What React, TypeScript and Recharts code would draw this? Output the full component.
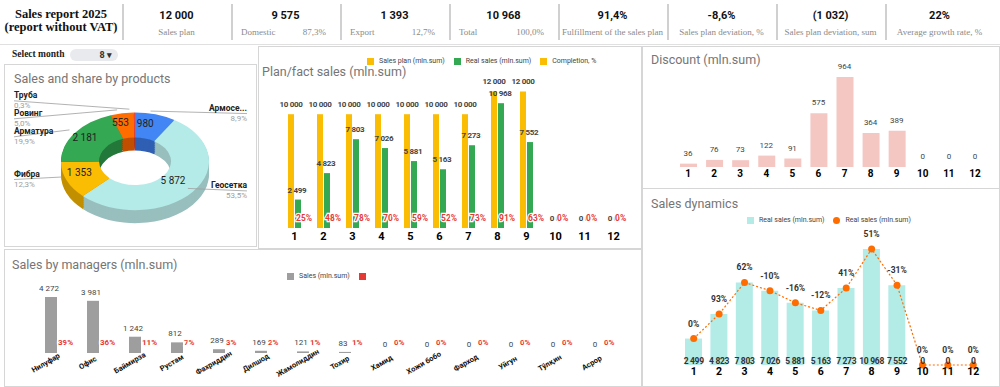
import React from 'react';
import {
  XAxis,
  YAxis,
  LabelList,
  PieChart,
  Pie,
  Cell,
  ComposedChart,
  Bar,
  Line,
} from 'recharts';

// ---- data ----
const months = ['1', '2', '3', '4', '5', '6', '7', '8', '9', '10', '11', '12'];
const salesPlan = [10000, 10000, 10000, 10000, 10000, 10000, 10000, 12000, 12000, 0, 0, 0];
const realSales = [2499, 4823, 7803, 7026, 5881, 5163, 7273, 10968, 7552, 0, 0, 0];
const completion = [25, 48, 78, 70, 59, 52, 73, 91, 63, 0, 0, 0];
const discount = [36, 76, 73, 122, 91, 575, 964, 364, 389, 0, 0, 0];
const growth = [0, 93, 62, -10, -16, -12, 41, 51, -31, 0, 0, 0];

const products = ['Армосетка', 'Геосетка', 'Фибра', 'Арматура', 'Ровинг', 'Труба'];
const productSales = [980, 5872, 1353, 2181, 553, 29];
const productShare = ['8,9%', '53,5%', '12,3%', '19,9%', '5,0%', '0,3%'];
const productColors = ['#4285f4', '#b4ebe8', '#fbbc04', '#34a853', '#ff6d01', '#e8453c'];
const productSideColors = ['#2f5fb3', '#98bfbd', '#c28f00', '#23783a', '#c24f00', '#a8302a'];

const managers = [
  'Нилуфар', 'Офис', 'Баймирза', 'Рустам', 'Фахриддин', 'Дилшод', 'Жамолиддин',
  'Тохир', 'Хамид', 'Хожи бобо', 'Фарход', 'Уйгун', 'Тўлқин', 'Асрор',
];
const managerSales = [4272, 3981, 1242, 812, 289, 169, 121, 83, 0, 0, 0, 0, 0, 0];
const managerShare = [39, 36, 11, 7, 3, 2, 1, 1, 0, 0, 0, 0, 0, 0];

const kpiValues = ['12 000', '9 575', '1 393', '10 968', '91,4%', '-8,6%', '(1 032)', '22%'];
const kpiCaptions = [
  'Sales plan', 'Domestic', 'Export', 'Total', 'Fulfillment of the sales plan',
  'Sales plan deviation, %', 'Sales plan deviation, sum', 'Average growth rate, %',
];
const kpiShares = ['', '87,3%', '12,7%', '100,0%', '', '', '', ''];

const planLegend = ['Sales plan (mln.sum)', 'Real sales (mln.sum)', 'Completion, %'];
const dynLegend = ['Real sales (mln.sum)', 'Real sales (mln.sum)'];
const mgrLegend = ['Sales (mln.sum)', ''];

// ---- helpers ----
const FONT = 'Roboto, "Liberation Sans", Arial, sans-serif';
const SERIF = '"Liberation Serif", "DejaVu Serif", serif';

const fmt = (n: any) => String(n).replace(/\B(?=(\d{3})+(?!\d))/g, ' ');
const zero = () => 0;

const planData = months.map((m, i) => ({
  month: m,
  plan: salesPlan[i],
  real: realSales[i],
  completion: completion[i],
}));
const discData = months.map((m, i) => ({ month: m, discount: discount[i] }));
const dynData = months.map((m, i) => ({ month: m, real: realSales[i], growth: growth[i] }));
const mgrData = managers.map((m, i) => ({ name: m, sales: managerSales[i], share: managerShare[i] }));
const pieData = products.map((p, i) => ({ name: p, value: productSales[i] }));

// pie geometry
const PIE_R = 74;
const PIE_IR = 36;
const PIE_K = 0.66;
const PIE_CX = 126;
const PIE_CY = 94;
const pieTotal = productSales.reduce((a, b) => a + b, 0);

function layoutPieLabels() {
  let a = 90;
  const items = productSales.map((v, i) => {
    const sweep = (v / pieTotal) * 360;
    const mid = a - sweep / 2;
    a -= sweep;
    const rad = (mid * Math.PI) / 180;
    const px = PIE_CX + PIE_R * Math.cos(rad);
    const py = PIE_CY - PIE_R * PIE_K * Math.sin(rad);
    return { i, px, py, left: Math.cos(rad) < 0, y: py - 2 };
  });
  [true, false].forEach((side) => {
    const list = items.filter((it) => it.left === side).sort((p, q) => p.y - q.y);
    for (let it = 0; it < 40; it++) {
      for (let j = 1; j < list.length; j++) {
        const gap = list[j].y - list[j - 1].y;
        if (gap < 18) {
          const d = (18 - gap) / 2;
          list[j].y += d;
          list[j - 1].y -= d;
        }
      }
    }
  });
  return items;
}
const pieLabels = layoutPieLabels();

const PieLabel = (p: any) => {
  const idx = p.index;
  const lay = pieLabels[idx];
  if (!lay) return null;
  const rad = (p.midAngle * Math.PI) / 180;
  const rm = (PIE_R + PIE_IR) / 2;
  const vx = PIE_CX + rm * Math.cos(rad);
  const vy = PIE_CY - rm * PIE_K * Math.sin(rad);
  const lx = lay.left ? 10 : 243;
  const anchor = lay.left ? 'start' : 'end';
  const name = products[idx].length > 8 ? products[idx].slice(0, 6) + '...' : products[idx];
  return (
    <g>
      <polyline
        points={`${lx},${lay.y + 4.5} ${lay.px},${lay.py}`}
        fill="none"
        stroke="#9e9e9e"
        strokeWidth={0.8}
      />
      <text x={lx} y={lay.y + 2} textAnchor={anchor} fontSize={8.5} fontWeight="bold" fill="#222" fontFamily={FONT}>
        {name}
      </text>
      <text x={lx} y={lay.y + 11.5} textAnchor={anchor} fontSize={8} fill="#9e9e9e" fontFamily={FONT}>
        {productShare[idx]}
      </text>
      {productSales[idx] > 100 && (
        <text x={vx} y={vy + 3.5} textAnchor="middle" fontSize={10} fill="#222" fontFamily={FONT}>
          {fmt(productSales[idx])}
        </text>
      )}
    </g>
  );
};

// label renderers (used on invisible helper lines so that zero values are labelled too)
const topLabel =
  (dx: number, dy: number, size: number, color: string, bold: boolean, suffix = '', ls = 0) =>
  (p: any) => (
    <text
      x={Number(p.x) + dx}
      y={Number(p.y) - dy}
      textAnchor="middle"
      fill={color}
      fontSize={size}
      fontWeight={bold ? 'bold' : 'normal'}
      letterSpacing={ls}
      fontFamily={FONT}
    >
      {fmt(p.value) + suffix}
    </text>
  );

const redLabel = (dx: number, dy: number, size: number) => (p: any) => (
  <text
    x={Number(p.x) + dx}
    y={Number(p.y) - dy}
    fill="#e53935"
    fontSize={size}
    fontWeight="bold"
    stroke="#fff"
    strokeWidth={2.5}
    paintOrder="stroke"
    fontFamily={FONT}
  >
    {p.value}%
  </text>
);

const ManagerTick = (p: any) => {
  const { x, y, payload } = p;
  const tx = x - 4;
  const ty = y + 12;
  return (
    <text
      x={tx}
      y={ty}
      transform={`rotate(-30 ${tx} ${ty})`}
      textAnchor="middle"
      fontSize={7.5}
      fontWeight="bold"
      fill="#111"
      fontFamily={FONT}
    >
      {payload.value}
    </text>
  );
};

const boldTick = { fill: '#000', fontSize: 11, fontWeight: 'bold', fontFamily: FONT };

function LegendItem({ label, color, round }: { label: string; color: string; round?: boolean }) {
  return (
    <span style={{ display: 'inline-flex', alignItems: 'center', marginRight: 9 }}>
      <span
        style={{
          display: 'inline-block',
          width: 7,
          height: 7,
          background: color,
          borderRadius: round ? 4 : 0,
          marginRight: 5,
        }}
      />
      {label}
    </span>
  );
}

const panel = (left: number, top: number, width: number, height: number): React.CSSProperties => ({
  position: 'absolute',
  left,
  top,
  width,
  height,
  border: '1px solid #d6d6d6',
  boxSizing: 'border-box',
  background: '#fff',
});

const titleStyle = (left: number, top: number): React.CSSProperties => ({
  position: 'absolute',
  left,
  top,
  fontFamily: FONT,
  fontSize: 12.5,
  color: '#757575',
  whiteSpace: 'nowrap',
});

const legendStyle = (left: number, top: number): React.CSSProperties => ({
  position: 'absolute',
  left,
  top,
  fontFamily: FONT,
  fontSize: 7,
  color: '#444',
  whiteSpace: 'nowrap',
  display: 'flex',
  alignItems: 'center',
});

function Header() {
  return (
    <div style={{ position: 'absolute', left: 0, top: 0, width: 1000, height: 45 }}>
      <div
        style={{
          position: 'absolute',
          left: 0,
          top: 8,
          width: 122,
          textAlign: 'center',
          fontFamily: SERIF,
          fontWeight: 'bold',
          fontSize: 12.5,
          lineHeight: '13px',
          color: '#111',
        }}
      >
        Sales report 2025
        <br />
        (report without VAT)
      </div>
      {kpiValues.map((v, i) => (
        <div key={i} style={{ position: 'absolute', left: 122 + i * 109, top: 0, width: 109, height: 45 }}>
          <div style={{ position: 'absolute', left: 0, top: 4, width: 2, height: 36, background: '#d0d0d0' }} />
          <div
            style={{
              position: 'absolute',
              top: 9,
              width: '100%',
              textAlign: 'center',
              fontFamily: FONT,
              fontWeight: 'bold',
              fontSize: 11,
              color: '#111',
            }}
          >
            {v}
          </div>
          <div
            style={{
              position: 'absolute',
              top: 27,
              left: 4,
              right: 4,
              display: 'flex',
              justifyContent: kpiShares[i] ? 'space-between' : 'center',
              padding: kpiShares[i] ? '0 10px 0 6px' : 0,
              fontFamily: SERIF,
              fontSize: 9,
              color: '#8a8a8a',
              whiteSpace: 'nowrap',
            }}
          >
            <span>{kpiCaptions[i]}</span>
            {kpiShares[i] && <span>{kpiShares[i]}</span>}
          </div>
        </div>
      ))}
      <div style={{ position: 'absolute', left: 0, top: 44, width: 1000, height: 1, background: '#e0e0e0' }} />
    </div>
  );
}

const hiddenLine = { stroke: 'none', dot: false, activeDot: false, isAnimationActive: false } as any;

export default function App() {
  const sideOffsets = [13, 11, 9, 7, 5, 3, 1];
  return (
    <div
      style={{
        position: 'absolute',
        left: 0,
        top: 0,
        width: 1000,
        height: 387,
        overflow: 'hidden',
        background: '#fff',
        fontFamily: FONT,
      }}
    >
      <Header />

      {/* month selector */}
      <div style={{ position: 'absolute', left: 12, top: 49, fontFamily: SERIF, fontWeight: 'bold', fontSize: 9.5, color: '#222' }}>
        Select month
      </div>
      <div
        style={{
          position: 'absolute',
          left: 70,
          top: 49,
          width: 48,
          height: 12,
          borderRadius: 6,
          background: '#e8eaed',
          fontFamily: FONT,
          fontSize: 9,
          fontWeight: 'bold',
          color: '#333',
          textAlign: 'right',
          paddingRight: 6,
          boxSizing: 'border-box',
          lineHeight: '12px',
        }}
      >
        8 ▾
      </div>

      {/* panels */}
      <div style={panel(4, 64, 253, 183)} />
      <div style={panel(258, 46, 384, 203)} />
      <div style={panel(642, 46, 358, 143)} />
      <div style={panel(642, 188, 358, 199)} />
      <div style={panel(4, 249, 638, 138)} />

      {/* products donut */}
      <div style={titleStyle(14, 71)}>Sales and share by products</div>
      <div
        style={{
          position: 'absolute',
          left: 4,
          top: 158 - 100 * PIE_K,
          width: 252,
          height: 200,
          transform: `scaleY(${PIE_K})`,
          transformOrigin: '0 0',
        }}
      >
        <PieChart width={252} height={200}>
          {sideOffsets.map((d) => (
            <Pie
              key={'side' + d}
              data={pieData}
              dataKey="value"
              cx={126}
              cy={100 + d / PIE_K}
              outerRadius={PIE_R}
              innerRadius={PIE_IR}
              startAngle={90}
              endAngle={-270}
              stroke="none"
              isAnimationActive={false}
            >
              {pieData.map((_, i) => (
                <Cell key={i} fill={productSideColors[i]} />
              ))}
            </Pie>
          ))}
          <Pie
            data={pieData}
            dataKey="value"
            cx={126}
            cy={100}
            outerRadius={PIE_R}
            innerRadius={PIE_IR}
            startAngle={90}
            endAngle={-270}
            stroke="none"
            isAnimationActive={false}
          >
            {pieData.map((_, i) => (
              <Cell key={i} fill={productColors[i]} />
            ))}
          </Pie>
        </PieChart>
      </div>
      <div style={{ position: 'absolute', left: 4, top: 64 }}>
        <PieChart width={252} height={182}>
          <Pie
            data={pieData}
            dataKey="value"
            cx={PIE_CX}
            cy={PIE_CY}
            outerRadius={PIE_R}
            innerRadius={PIE_IR}
            startAngle={90}
            endAngle={-270}
            fill="none"
            stroke="none"
            label={PieLabel}
            labelLine={false}
            isAnimationActive={false}
          />
        </PieChart>
      </div>

      {/* plan / fact */}
      <div style={{ position: 'absolute', left: 259, top: 47 }}>
        <ComposedChart
          width={380}
          height={200}
          data={planData}
          margin={{ top: 16, right: 11, bottom: 0, left: 21 }}
          barGap={1}
        >
          <XAxis
            dataKey="month"
            axisLine={false}
            tickLine={false}
            tickSize={4}
            tickMargin={0}
            height={19}
            interval={0}
            tick={boldTick}
          />
          <YAxis hide domain={[0, 14500]} />
          <Bar dataKey="plan" fill="#fbbc04" barSize={6} isAnimationActive={false} />
          <Bar dataKey="real" fill="#34a853" barSize={6} isAnimationActive={false} />
          <Line dataKey="plan" {...hiddenLine}>
            <LabelList dataKey="plan" content={topLabel(-3.5, 7, 8, '#444', true, '', -0.3)} />
          </Line>
          <Line dataKey="real" {...hiddenLine}>
            <LabelList dataKey="real" content={topLabel(2.5, 7, 8, '#444', true, '', -0.3)} />
          </Line>
          <Line dataKey={zero} {...hiddenLine}>
            <LabelList dataKey="completion" content={redLabel(1.5, 7, 8.5)} />
          </Line>
        </ComposedChart>
      </div>
      <div style={titleStyle(262, 64)}>Plan/fact sales (mln.sum)</div>
      <div style={legendStyle(367, 57)}>
        <LegendItem label={planLegend[0]} color="#fbbc04" />
        <LegendItem label={planLegend[1]} color="#34a853" />
        <LegendItem label={planLegend[2]} color="#fbbc04" />
      </div>

      {/* discount */}
      <div style={{ position: 'absolute', left: 643, top: 47 }}>
        <ComposedChart width={357} height={141} data={discData} margin={{ top: 15, right: 12, bottom: 0, left: 32 }}>
          <XAxis
            dataKey="month"
            axisLine={false}
            tickLine={false}
            tickSize={3}
            tickMargin={0}
            height={21}
            interval={0}
            tick={{ ...boldTick, fontSize: 10 }}
          />
          <YAxis hide domain={[0, 1125]} />
          <Bar dataKey="discount" fill="#f4c7c3" barSize={17} isAnimationActive={false} />
          <Line dataKey="discount" {...hiddenLine}>
            <LabelList dataKey="discount" content={topLabel(0, 8, 8, '#444', false)} />
          </Line>
        </ComposedChart>
      </div>
      <div style={titleStyle(651, 52)}>Discount (mln.sum)</div>

      {/* sales dynamics */}
      <div style={{ position: 'absolute', left: 643, top: 189 }}>
        <ComposedChart width={357} height={198} data={dynData} margin={{ top: 40, right: 14, bottom: 0, left: 38 }}>
          <XAxis
            dataKey="month"
            axisLine={false}
            tickLine={false}
            tickSize={3}
            tickMargin={0}
            height={22}
            interval={0}
            tick={{ ...boldTick, fontSize: 10.5 }}
          />
          <YAxis hide domain={[0, 12860]} />
          <Bar dataKey="real" fill="#b3ebe7" barSize={17} isAnimationActive={false} />
          <Line dataKey={zero} {...hiddenLine}>
            <LabelList dataKey="real" content={topLabel(0, 1.5, 8.5, '#333', true, '', -0.3)} />
          </Line>
          <Line
            dataKey="real"
            stroke="#ff6d01"
            strokeWidth={1.2}
            strokeDasharray="2 2"
            dot={{ r: 3.5, fill: '#ff6d01', stroke: 'none' }}
            isAnimationActive={false}
          >
            <LabelList dataKey="growth" content={topLabel(0, 12, 8.5, '#333', true, '%')} />
          </Line>
        </ComposedChart>
      </div>
      <div style={titleStyle(651, 196)}>Sales dynamics</div>
      <div style={legendStyle(747, 216)}>
        <LegendItem label={dynLegend[0]} color="#b3ebe7" />
        <LegendItem label={dynLegend[1]} color="#ff6d01" round />
      </div>

      {/* managers */}
      <div style={{ position: 'absolute', left: 4, top: 250 }}>
        <ComposedChart width={636} height={137} data={mgrData} margin={{ top: 30, right: 22, bottom: 0, left: 26 }}>
          <XAxis
            dataKey="name"
            axisLine={false}
            tickLine={false}
            tickSize={0}
            tickMargin={0}
            height={34}
            interval={0}
            tick={ManagerTick}
          />
          <YAxis hide domain={[0, 5570]} />
          <Bar dataKey="sales" fill="#9e9e9e" barSize={12} isAnimationActive={false} />
          <Line dataKey="sales" {...hiddenLine}>
            <LabelList dataKey="sales" content={topLabel(-2, 6, 8, '#444', false)} />
          </Line>
          <Line dataKey={zero} {...hiddenLine}>
            <LabelList dataKey="share" content={redLabel(7, 8, 8)} />
          </Line>
        </ComposedChart>
      </div>
      <div style={titleStyle(12, 257)}>Sales by managers (mln.sum)</div>
      <div style={legendStyle(287, 272)}>
        <LegendItem label={mgrLegend[0]} color="#9e9e9e" />
        <LegendItem label={mgrLegend[1]} color="#e53935" />
      </div>
    </div>
  );
}
